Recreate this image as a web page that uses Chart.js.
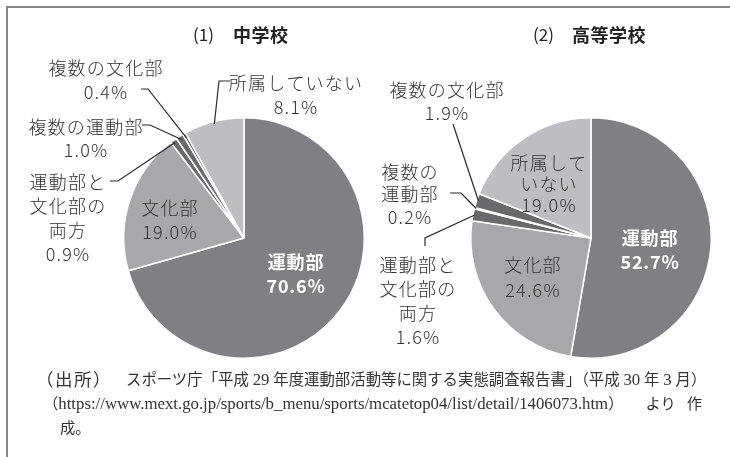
<!DOCTYPE html>
<html><head><meta charset="utf-8">
<script src="https://cdn.jsdelivr.net/npm/chart.js@4"></script>
<style>
html,body{margin:0;padding:0;background:#fff;}
#wrap{position:relative;width:730px;height:457px;overflow:hidden;}
canvas{position:absolute;left:0;top:0;}
#frame{position:absolute;left:6px;top:6px;width:740px;height:470px;border-top:2px solid #858585;border-left:2px solid #858585;}
.fn{position:absolute;font-family:"Liberation Serif","Noto Sans CJK JP",serif;font-size:15.4px;line-height:24px;color:#333;white-space:nowrap;}
.lt{font-size:16.8px;}
</style></head><body>
<div id="wrap">
<div id="frame"></div>
<canvas id="c1" width="730" height="457"></canvas>
<canvas id="c2" width="730" height="457"></canvas>
<div class="fn" style="left:36px;top:368px;font-size:17.5px;letter-spacing:1.5px">（出所）</div>
<div class="fn" style="left:126px;top:368px">スポーツ庁「平成 <span class="lt">29</span> 年度運動部活動等に関する実態調査報告書」（平成 <span class="lt">30</span> 年 <span class="lt">3</span> 月）</div>
<div class="fn" style="left:43px;top:392px;font-size:15.3px">（<span class="lt">https://www.mext.go.jp/sports/b_menu/sports/mcatetop04/list/detail/1406073.htm</span>）<span style="margin-left:22px">より</span><span style="margin-left:11px">作</span></div>
<div class="fn" style="left:60px;top:416px;font-size:15.3px">成。</div>
</div>
<script>
// ---- data ----
const categories = ['運動部','文化部','運動部と文化部の両方','複数の運動部','複数の文化部','所属していない'];
const juniorHighValues = [70.6, 19.0, 0.9, 1.0, 0.4, 8.1];
const highSchoolValues = [52.7, 24.6, 1.6, 0.2, 1.9, 19.0];
const chartNumbers = ['(1)', '(2)'];
const chartTitles = ['中学校', '高等学校'];

// ---- style / layout ----
const sliceColors = ['#7f8084', '#a7a8ab', '#68696d', '#68696d', '#68696d', '#bdbec1'];
const FONT = '"Noto Sans CJK JP", "Noto Sans", sans-serif';
const pct = v => v.toFixed(1) + '%';

const layouts = [
  {
    title: {numX: 193, textX: 233, y: 35},
    labels: [
      {idx:0, name:['運動部'], x:296, y:262, lh:24, color:'#ffffff', bold:true},
      {idx:1, name:['文化部'], x:170, y:208, lh:24, color:'#333'},
      {idx:2, name:['運動部と','文化部の','両方'], x:68, y:182, lh:24, color:'#333', leader:[[110,181],[118,181]], reach:0.98},
      {idx:3, name:['複数の運動部'], x:86, y:127, lh:23, color:'#333', leader:[[142,125],[150,125]], reach:0.97},
      {idx:4, name:['複数の文化部'], x:106, y:68, lh:24, color:'#333', leader:[[141,89],[148,89]], reach:0.96},
      {idx:5, name:['所属していない'], x:296, y:83, lh:24, color:'#333', leader:[[230,81],[219,81]], reach:0.98}
    ]
  },
  {
    title: {numX: 533, textX: 572, y: 35},
    labels: [
      {idx:0, name:['運動部'], x:650, y:238, lh:24, color:'#ffffff', bold:true},
      {idx:1, name:['文化部'], x:533, y:265, lh:25, color:'#333'},
      {idx:2, name:['運動部と','文化部の','両方'], x:418, y:265, lh:24, color:'#333', leader:[[425,246],[425,238]], reach:0.985},
      {idx:3, name:['複数の','運動部'], x:410, y:172, lh:22.5, color:'#333', leader:[[450,193],[461,193]], reach:0.985},
      {idx:4, name:['複数の文化部'], x:447, y:90, lh:23, color:'#333', leader:[[453,124]], reach:0.985},
      {idx:5, name:['所属して','いない'], x:549, y:163, lh:21, color:'#333'}
    ]
  }
];

const labelPlugin = {
  id: 'sliceLabels',
  afterDatasetsDraw(chart) {
    const ctx = chart.ctx;
    const which = chart.options.plugins.sliceLabels.which;
    const lay = layouts[which];
    const values = chart.data.datasets[0].data;
    const meta = chart.getDatasetMeta(0);
    ctx.save();
    // title
    ctx.fillStyle = '#222';
    ctx.textBaseline = 'middle';
    ctx.textAlign = 'left';
    ctx.letterSpacing = '0px';
    ctx.font = '400 17px ' + FONT;
    ctx.fillText(chartNumbers[which], lay.title.numX, lay.title.y);
    ctx.letterSpacing = '0.5px';
    ctx.font = '700 18px ' + FONT;
    ctx.fillText(chartTitles[which], lay.title.textX, lay.title.y);
    // leaders
    ctx.strokeStyle = '#2a2a2a';
    ctx.lineWidth = 1.2;
    lay.labels.forEach(l => {
      if (!l.leader) return;
      const arc = meta.data[l.idx];
      const mid = (arc.startAngle + arc.endAngle) / 2;
      const r = arc.outerRadius * l.reach;
      ctx.beginPath();
      ctx.moveTo(l.leader[0][0], l.leader[0][1]);
      for (let i = 1; i < l.leader.length; i++) ctx.lineTo(l.leader[i][0], l.leader[i][1]);
      ctx.lineTo(arc.x + Math.cos(mid) * r, arc.y + Math.sin(mid) * r);
      ctx.stroke();
    });
    // texts
    ctx.textAlign = 'center';
    lay.labels.forEach(l => {
      const lines = l.name.concat([pct(values[l.idx])]);
      ctx.fillStyle = l.color;
      ctx.font = (l.bold ? '700 ' : '300 ') + '18px ' + FONT;
      ctx.letterSpacing = l.bold ? '0.8px' : '1.2px';
      lines.forEach((t, i) => ctx.fillText(t, l.x, l.y + i * l.lh));
    });
    ctx.restore();
  }
};

function makePie(id, values, which, padLeft, padRight) {
  return new Chart(document.getElementById(id), {
    type: 'pie',
    data: {
      labels: categories,
      datasets: [{data: values, backgroundColor: sliceColors, borderColor: '#ffffff', borderWidth: 1.5}]
    },
    options: {
      responsive: false,
      animation: false,
      events: [],
      devicePixelRatio: 1,
      layout: {padding: {left: padLeft, right: padRight, top: 117, bottom: 98}},
      plugins: {legend: {display: false}, tooltip: {enabled: false}, sliceLabels: {which: which}}
    },
    plugins: [labelPlugin]
  });
}

makePie('c1', juniorHighValues, 0, 123, 365);
makePie('c2', highSchoolValues, 1, 470, 18);
</script>
</body></html>
